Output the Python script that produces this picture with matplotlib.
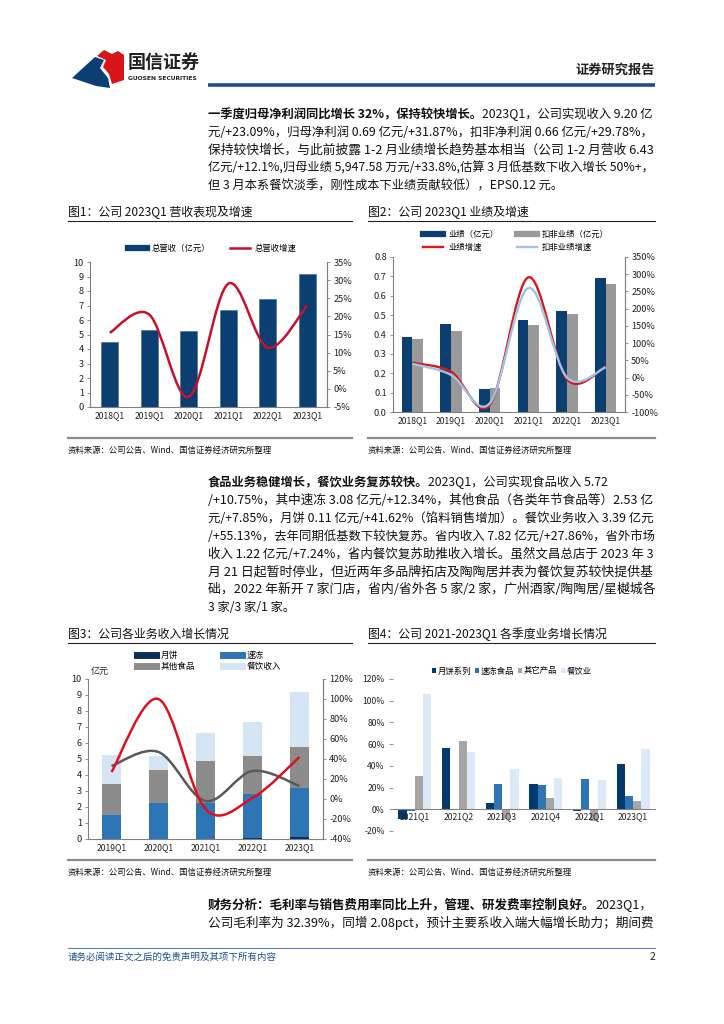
import numpy as np
import matplotlib
matplotlib.use('Agg')
import matplotlib.pyplot as plt
from matplotlib.path import Path
from matplotlib.patches import PathPatch, Polygon
from matplotlib.lines import Line2D
from matplotlib.ticker import FuncFormatter, MultipleLocator

plt.rcParams['font.family'] = ['Noto Sans CJK SC', 'DejaVu Sans']
plt.rcParams['axes.unicode_minus'] = False

W, H = 724, 1024

# ---------------- data read from the page ----------------
# fig 1: revenue
q_rev = ['2018Q1', '2019Q1', '2020Q1', '2021Q1', '2022Q1', '2023Q1']
revenue = [4.45, 5.34, 5.23, 6.70, 7.48, 9.20]
revenue_growth = [15.5, 20.5, -2.2, 29.0, 11.4, 23.09]

# fig 2: net profit
q_profit = ['2018Q1', '2019Q1', '2020Q1', '2021Q1', '2022Q1', '2023Q1']
profit = [0.388, 0.455, 0.121, 0.474, 0.522, 0.69]
profit_kf = [0.379, 0.419, 0.124, 0.450, 0.507, 0.66]
profit_growth = [43, 17, -80, 291, -5, 31.87]
profit_kf_growth = [40, 8, -75, 260, 0, 29.78]

# fig 3: revenue by segment
q_seg = ['2019Q1', '2020Q1', '2021Q1', '2022Q1', '2023Q1']
seg_mooncake = [0.03, 0.02, 0.03, 0.08, 0.11]
seg_frozen = [1.49, 2.25, 2.20, 2.71, 3.08]
seg_other = [1.92, 2.04, 2.65, 2.40, 2.53]
seg_catering = [1.83, 0.88, 1.75, 2.14, 3.48]
seg_growth_red = [27, 100, -10, 1, 42]
seg_growth_gray = [33, 47, -2, 28, 13]
seg_names = ['月饼', '速冻', '其他食品', '餐饮收入']

# fig 4: quarterly growth by segment
q_grow = ['2021Q1', '2021Q2', '2021Q3', '2021Q4', '2022Q1', '2023Q1']
g_mooncake = [-9, 56.5, 5.8, 23, -2, 41.62]
g_frozen = [-1.5, -1, 23, 22, 27.7, 12.34]
g_other = [30.5, 63, -9, 10.5, -11, 7.85]
g_catering = [106, 52.6, 37, 28.6, 26.8, 55.13]
grow_names = ['月饼系列', '速冻食品', '其它产品', '餐饮业']

para1 = [
    ('一季度归母净利润同比增长 32%，保持较快增长。', '2023Q1，公司实现收入 9.20 亿'),
    ('', '元/+23.09%，归母净利润 0.69 亿元/+31.87%，扣非净利润 0.66 亿元/+29.78%，'),
    ('', '保持较快增长，与此前披露 1-2 月业绩增长趋势基本相当（公司 1-2 月营收 6.43'),
    ('', '亿元/+12.1%,归母业绩 5,947.58 万元/+33.8%,估算 3 月低基数下收入增长 50%+，'),
    ('', '但 3 月本系餐饮淡季，刚性成本下业绩贡献较低），EPS0.12 元。'),
]
para2 = [
    ('食品业务稳健增长，餐饮业务复苏较快。', '2023Q1，公司实现食品收入 5.72'),
    ('', '/+10.75%，其中速冻 3.08 亿元/+12.34%，其他食品（各类年节食品等）2.53 亿'),
    ('', '元/+7.85%，月饼 0.11 亿元/+41.62%（馅料销售增加）。餐饮业务收入 3.39 亿元'),
    ('', '/+55.13%，去年同期低基数下较快复苏。省内收入 7.82 亿元/+27.86%，省外市场'),
    ('', '收入 1.22 亿元/+7.24%，省内餐饮复苏助推收入增长。虽然文昌总店于 2023 年 3'),
    ('', '月 21 日起暂时停业，但近两年多品牌拓店及陶陶居并表为餐饮复苏较快提供基'),
    ('', '础，2022 年新开 7 家门店，省内/省外各 5 家/2 家，广州酒家/陶陶居/星樾城各'),
    ('', '3 家/3 家/1 家。'),
]
para3 = [
    ('财务分析：毛利率与销售费用率同比上升，管理、研发费率控制良好。', '2023Q1，'),
    ('', '公司毛利率为 32.39%，同增 2.08pct，预计主要系收入端大幅增长助力；期间费'),
]

NAVY = '#0B3E71'
DARK = '#0A2F5C'
BLUE = '#2E75B6'
GRAY = '#999999'
LIGHT = '#D6E5F4'
RED = '#C8102E'
AXC = '#808080'


def rect(x0, y0, x1, y1):
    return [x0 / W, 1 - y1 / H, (x1 - x0) / W, (y1 - y0) / H]


def fpos(x, y):
    return (x / W, 1 - y / H)


def smooth_path(xs, ys):
    pts = np.column_stack([xs, ys]).astype(float)
    n = len(pts)
    verts = [pts[0]]
    codes = [Path.MOVETO]
    for i in range(n - 1):
        p0 = pts[i - 1] if i > 0 else pts[i]
        p1 = pts[i]
        p2 = pts[i + 1]
        p3 = pts[i + 2] if i + 2 < n else pts[i + 1]
        verts += [p1 + (p2 - p0) / 6, p2 - (p3 - p1) / 6, p2]
        codes += [Path.CURVE4] * 3
    return Path(verts, codes)


def style_axes(ax, ax2=None):
    ax.spines['top'].set_visible(False)
    for s in ['left', 'bottom', 'right']:
        ax.spines[s].set_color(AXC)
        ax.spines[s].set_linewidth(0.8)
    ax.tick_params(axis='y', labelsize=6.6, length=2.5, width=0.6, color=AXC, pad=2, labelcolor='#222222')
    ax.tick_params(axis='x', labelsize=6.2, length=0, pad=3, labelcolor='#222222')
    if ax2 is not None:
        for s in ['top', 'left', 'bottom']:
            ax2.spines[s].set_visible(False)
        ax2.spines['right'].set_color(AXC)
        ax2.spines['right'].set_linewidth(0.8)
        ax2.tick_params(axis='y', labelsize=6.6, length=2.5, width=0.6, color=AXC, pad=2, labelcolor='#222222')
        ax2.yaxis.set_major_formatter(FuncFormatter(lambda v, _: f'{v:.0f}%'))


fig = plt.figure(figsize=(W / 100, H / 100), dpi=100)
bg = fig.add_axes([0, 0, 1, 1])
bg.set_xlim(0, W)
bg.set_ylim(H, 0)
bg.axis('off')
renderer = fig.canvas.get_renderer()

# ---------------- header ----------------
bg.add_patch(Polygon([(72, 78), (95, 57), (104, 60), (100, 68), (108, 78), (110, 88), (96, 86)],
                     closed=True, color='#0B3E71', lw=0))
bg.add_patch(Polygon([(97, 56), (104, 50), (112, 54), (118, 51), (124, 55), (124, 80), (112, 84),
                      (109, 74), (103, 67), (106, 60)], closed=True, color='#D7141A', lw=0))
bg.text(128, 62, '国信证券', fontsize=13, fontweight='bold', color='#222222', va='center')
bg.text(128, 78, 'GUOSEN SECURITIES', fontsize=4.3, fontweight='bold', color='#222222', va='center',
        family=['DejaVu Sans'])
bg.text(655, 70, '证券研究报告', fontsize=9.5, fontweight='bold', color='#222222', va='center', ha='right')
bg.plot([208, 655], [85, 85], color='#1F4E8C', lw=2.6, solid_capstyle='butt')


# ---------------- paragraphs (justified to the right margin) ----------------
def paragraph(lines, x, y0, x_end=655, dy=17.8, size=8.8, last_ragged=True):
    for i, (bold, rest) in enumerate(lines):
        y = y0 + i * dy
        parts = []
        if bold:
            t = bg.text(x, y, bold, fontsize=size, fontweight='bold', va='center', ha='left', color='#111111')
            parts.append(t)
            parts.append(bg.annotate(rest, xy=(1, 0), xycoords=t, va='bottom', ha='left',
                                     fontsize=size, color='#111111'))
        else:
            parts.append(bg.text(x, y, rest, fontsize=size, va='center', ha='left', color='#111111'))
        if last_ragged and i == len(lines) - 1:
            continue
        right = parts[-1].get_window_extent(renderer).x1
        f = (x_end - x) / (right - x)
        if 0.9 < f < 1.1:
            for p in parts:
                p.set_fontsize(size * f)


paragraph(para1, 208, 115)
paragraph(para2, 208, 483)
paragraph(para3, 208, 905, last_ragged=False)


# ---------------- titles and sources ----------------
def frame(x0, x1, title, ty, src_y):
    bg.text(x0, ty, title, fontsize=8.6, va='center', ha='left', color='#111111')
    bg.plot([x0, x1], [ty + 9, ty + 9], color='#222222', lw=0.8)
    bg.plot([x0, x1], [src_y - 12, src_y - 12], color='#8C8C8C', lw=1.6)
    bg.text(x0, src_y, '资料来源：公司公告、Wind、国信证券经济研究所整理', fontsize=6, va='center',
            ha='left', color='#111111')


frame(68, 352, '图1：公司 2023Q1 营收表现及增速', 212, 450)
frame(368, 655, '图2：公司 2023Q1 业绩及增速', 212, 450)
frame(68, 352, '图3：公司各业务收入增长情况', 634, 872)
frame(368, 655, '图4：公司 2021-2023Q1 各季度业务增长情况', 634, 872)

# ---------------- fig 1 ----------------
ax = fig.add_axes(rect(90, 262, 327, 407))
x = np.arange(len(q_rev))
ax.bar(x, revenue, width=0.42, color=NAVY, edgecolor='#4A74A0', linewidth=0.5)
ax.set_xlim(-0.5, len(q_rev) - 0.5)
ax.set_ylim(0, 10)
ax.yaxis.set_major_locator(MultipleLocator(1))
ax.set_xticks(x)
ax.set_xticklabels(q_rev)
ax2 = ax.twinx()
ax2.set_ylim(-5, 35)
ax2.yaxis.set_major_locator(MultipleLocator(5))
ax2.add_patch(PathPatch(smooth_path(x, revenue_growth), fill=False, edgecolor=RED, lw=1.8))
style_axes(ax, ax2)
fig.legend([Line2D([], [], color=NAVY, lw=4.5), Line2D([], [], color=RED, lw=1.8)],
           ['总营收（亿元）', '总营收增速'], loc='center', bbox_to_anchor=fpos(212, 248),
           ncol=2, frameon=False, fontsize=6, handlelength=2.3, handletextpad=0.6,
           columnspacing=2.4, borderpad=0, borderaxespad=0)

# ---------------- fig 2 ----------------
ax = fig.add_axes(rect(393, 257, 625, 412))
x = np.arange(len(q_profit))
bw = 0.28
ax.bar(x - bw / 2, profit, width=bw, color=NAVY, linewidth=0)
ax.bar(x + bw / 2, profit_kf, width=bw, color=GRAY, linewidth=0)
ax.set_xlim(-0.5, len(q_profit) - 0.5)
ax.set_ylim(0, 0.8)
ax.yaxis.set_major_locator(MultipleLocator(0.1))
ax.yaxis.set_major_formatter(FuncFormatter(lambda v, _: f'{v:.1f}'))
ax.set_xticks(x)
ax.set_xticklabels(q_profit)
ax2 = ax.twinx()
ax2.set_ylim(-100, 350)
ax2.yaxis.set_major_locator(MultipleLocator(50))
ax2.add_patch(PathPatch(smooth_path(x, profit_growth), fill=False, edgecolor='#D7191C', lw=1.7))
ax2.add_patch(PathPatch(smooth_path(x, profit_kf_growth), fill=False, edgecolor='#9DC3E6', lw=1.7))
style_axes(ax, ax2)
fig.legend([Line2D([], [], color=NAVY, lw=4.5), Line2D([], [], color='#D7191C', lw=1.7),
            Line2D([], [], color=GRAY, lw=4.5), Line2D([], [], color='#9DC3E6', lw=1.7)],
           ['业绩（亿元）', '业绩增速', '扣非业绩（亿元）', '扣非业绩增速'], loc='center',
           bbox_to_anchor=fpos(516, 241), ncol=2, frameon=False, fontsize=6, handlelength=2.4,
           handletextpad=0.6, columnspacing=2.2, labelspacing=0.45, borderpad=0, borderaxespad=0)

# ---------------- fig 3 ----------------
ax = fig.add_axes(rect(88, 679, 323, 839))
x = np.arange(len(q_seg))
bw = 0.39
b1 = np.array(seg_mooncake)
b2 = b1 + np.array(seg_frozen)
b3 = b2 + np.array(seg_other)
ax.bar(x, seg_mooncake, width=bw, color=DARK, linewidth=0)
ax.bar(x, seg_frozen, width=bw, bottom=b1, color=BLUE, linewidth=0)
ax.bar(x, seg_other, width=bw, bottom=b2, color='#8C8C8C', linewidth=0)
ax.bar(x, seg_catering, width=bw, bottom=b3, color=LIGHT, linewidth=0)
ax.set_xlim(-0.5, len(q_seg) - 0.5)
ax.set_ylim(0, 10)
ax.yaxis.set_major_locator(MultipleLocator(1))
ax.set_xticks(x)
ax.set_xticklabels(q_seg)
ax2 = ax.twinx()
ax2.set_ylim(-40, 120)
ax2.yaxis.set_major_locator(MultipleLocator(20))
ax2.add_patch(PathPatch(smooth_path(x, seg_growth_gray), fill=False, edgecolor='#595959', lw=1.8))
ax2.add_patch(PathPatch(smooth_path(x, seg_growth_red), fill=False, edgecolor='#E0101E', lw=1.8))
style_axes(ax, ax2)
bg.text(91, 671, '亿元', fontsize=6.5, va='center', ha='left', color='#222222')
fig.legend([Line2D([], [], color=DARK, lw=5), Line2D([], [], color='#8C8C8C', lw=5),
            Line2D([], [], color=BLUE, lw=5), Line2D([], [], color=LIGHT, lw=5)],
           ['月饼', '其他食品', '速冻', '餐饮收入'], loc='center', bbox_to_anchor=fpos(209, 661),
           ncol=2, frameon=False, fontsize=6.2, handlelength=2.2, handletextpad=0.6,
           columnspacing=3.2, labelspacing=0.25, borderpad=0, borderaxespad=0)

# ---------------- fig 4 ----------------
ax = fig.add_axes(rect(393, 679, 655, 831))
x = np.arange(len(q_grow))
bw = 0.19
series4 = [g_mooncake, g_frozen, g_other, g_catering]
colors4 = ['#003A70', BLUE, '#A6A6A6', '#DCE9F6']
for k, (vals, c) in enumerate(zip(series4, colors4)):
    ax.bar(x + (k - 1.5) * bw, vals, width=bw, color=c, linewidth=0, label=grow_names[k])
ax.set_xlim(-0.5, len(q_grow) - 0.5)
ax.set_ylim(-20, 120)
ax.yaxis.set_major_locator(MultipleLocator(20))
ax.yaxis.set_major_formatter(FuncFormatter(lambda v, _: f'{v:.0f}%'))
ax.set_xticks(x)
ax.set_xticklabels(q_grow)
for s in ['top', 'right', 'left']:
    ax.spines[s].set_visible(False)
ax.spines['bottom'].set_position(('data', 0))
ax.spines['bottom'].set_color(AXC)
ax.spines['bottom'].set_linewidth(0.8)
ax.tick_params(axis='y', labelsize=6.2, length=3, width=0.6, color=AXC, pad=3, labelcolor='#222222')
ax.tick_params(axis='x', labelsize=6.2, length=0, pad=2, labelcolor='#222222')
ax.patch.set_alpha(0)
fig.legend(*ax.get_legend_handles_labels(), loc='center', bbox_to_anchor=fpos(512, 671), ncol=4,
           frameon=False, fontsize=6, handlelength=0.55, handleheight=0.55, handletextpad=0.2,
           columnspacing=0.4, borderpad=0, borderaxespad=0)

# ---------------- footer ----------------
bg.plot([68, 655], [948, 948], color='#5B82B0', lw=0.8)
bg.text(68, 957, '请务必阅读正文之后的免责声明及其项下所有内容', fontsize=6.8, va='center', ha='left',
        color='#1F4E8C')
bg.text(655, 957, '2', fontsize=7.5, va='center', ha='right', color='#222222')

fig.savefig('out.png', dpi=100)
